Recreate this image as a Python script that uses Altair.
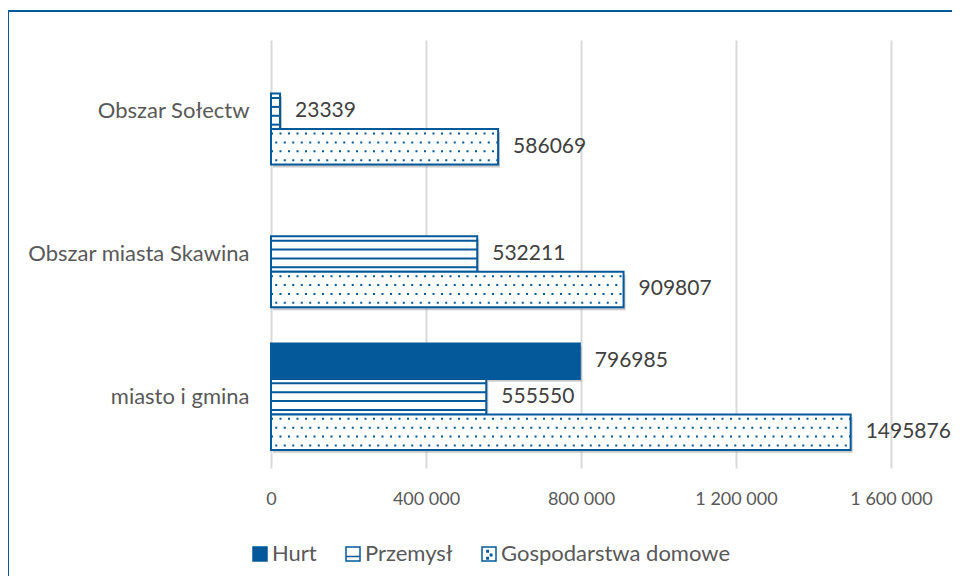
import altair as alt
import pandas as pd

categories = ["Obszar Sołectw", "Obszar miasta Skawina", "miasto i gmina"]
series = ["Hurt", "Przemysł", "Gospodarstwa domowe"]
hurt = [None, None, 796985]
przemysl = [23339, 532211, 555550]
gospodarstwa = [586069, 909807, 1495876]
x_ticks = [0, 400000, 800000, 1200000, 1600000]

rows = []
for name, vals in zip(series, [hurt, przemysl, gospodarstwa]):
    for c, v in zip(categories, vals):
        if v is not None:
            rows.append({"category": c, "series": name, "value": v})
df = pd.DataFrame(rows)

BLUE = "#03599A"
FONT = "Lato"
N_LINES = 4
PAD_OUT = 0.51

Y = alt.Y("category:N", sort=categories,
          scale=alt.Scale(domain=categories, paddingInner=0, paddingOuter=0),
          axis=alt.Axis(title=None, domain=False, ticks=False, grid=False,
                        labelFont=FONT, labelFontSize=22, labelColor="#595959",
                        labelPadding=22, labelLimit=400))
X = alt.X("value:Q", scale=alt.Scale(domain=[0, 1600000], nice=False),
          axis=alt.Axis(title=None, values=x_ticks, domain=False, ticks=False,
                        grid=True, gridColor="#d9d9d9", gridWidth=2,
                        labelFont=FONT, labelFontSize=18, labelFlush=False,
                        labelOverlap=False, labelBound=False,
                        labelColor="#595959", labelPadding=22,
                        labelExpr="replace(format(datum.value, ','), regexp(',', 'g'), ' ')"))


def yoff(align=0.5):
    return alt.YOffset("series:N",
                       scale=alt.Scale(type="band", domain=series, paddingInner=0,
                                       paddingOuter=PAD_OUT, align=align))


# sub-bands: one per pattern line, with two empty slots at each end for the outer gap
sub_domain = (["_a", "_b"] + [f"{s}|{i}" for s in series for i in range(N_LINES)]
              + ["_c", "_d"])
YO_SUB = alt.YOffset("sub:N", scale=alt.Scale(type="band", domain=sub_domain,
                                              paddingInner=0, paddingOuter=0.04))

base = alt.Chart(df).encode(y=Y)

shadow = base.mark_bar(color="#8c8c8c", opacity=0.45, xOffset=2).encode(
    x=alt.X("value:Q"), yOffset=yoff(0.58))

bars = base.mark_bar(stroke=BLUE, strokeWidth=2).encode(
    x=X, yOffset=yoff(),
    fill=alt.condition("datum.series == 'Hurt'", alt.value(BLUE), alt.value("white")),
)

lines_base = (
    base.transform_calculate(line="[0, 1, 2, 3]")
    .transform_flatten(["line"])
    .transform_calculate(sub="datum.series + '|' + datum.line", zero="0")
)

stripes = lines_base.transform_filter("datum.series == 'Przemysł'").mark_rule(
    color=BLUE, strokeWidth=2).encode(x=alt.X("zero:Q"), x2=alt.X2("value"), yOffset=YO_SUB)

dots_a = lines_base.transform_filter(
    "datum.series == 'Gospodarstwa domowe' && datum.line % 2 == 0").mark_rule(
    color=BLUE, strokeWidth=2, strokeDash=[2, 6.5]).encode(
    x=alt.X("zero:Q"), x2=alt.X2("value"), yOffset=YO_SUB)
dots_b = lines_base.transform_filter(
    "datum.series == 'Gospodarstwa domowe' && datum.line % 2 == 1").mark_rule(
    color=BLUE, strokeWidth=2, strokeDash=[2, 6.5], strokeDashOffset=4.25).encode(
    x=alt.X("zero:Q"), x2=alt.X2("value"), yOffset=YO_SUB)

labels = base.mark_text(align="left", baseline="middle", dx=15, fontSize=21,
                        font=FONT, color="#404040").encode(
    x=alt.X("value:Q"), yOffset=yoff(), text=alt.Text("value:Q", format="d"))

legend = alt.Legend(title=None, orient="none", direction="horizontal",
                    legendX=-22, legendY=503, symbolSize=196, symbolStrokeWidth=1.5,
                    labelFont=FONT, labelFontSize=22, labelColor="#595959",
                    labelOffset=1, columnPadding=25, padding=0, labelLimit=400)
shapes = [
    "M-1,-1H1V1H-1Z",
    "M-1,-1H1V1H-1Z M-1,0.35H1",
    "M-1,-1H1V1H-1Z M-0.3,-0.5h0.2v0.2h-0.2Z M0.2,0.05h0.2v0.2h-0.2Z M-0.3,0.5h0.2v0.2h-0.2Z",
]
leg = alt.Chart(df).transform_filter("false").mark_point(
    opacity=1, filled=True, strokeWidth=1.5).encode(
    x=alt.X("value:Q"),
    y=alt.Y("category:N"),
    fill=alt.Fill("series:N", scale=alt.Scale(domain=series, range=[BLUE, "white", "white"]), legend=legend),
    stroke=alt.Stroke("series:N", scale=alt.Scale(domain=series, range=[BLUE, BLUE, BLUE]), legend=legend),
    shape=alt.Shape("series:N", scale=alt.Scale(domain=series, range=shapes), legend=legend),
)

frame_df = pd.DataFrame({"k": [0]})
left_border = alt.Chart(frame_df).mark_rule(color=BLUE, strokeWidth=2).encode(
    x=alt.value(-263), y=alt.value(-29), y2=alt.value(560))
top_border = alt.Chart(frame_df).mark_rule(color=BLUE, strokeWidth=2).encode(
    x=alt.value(-263), x2=alt.value(720), y=alt.value(-29))

chart = alt.layer(
    shadow, bars, stripes, dots_a, dots_b, labels, leg, left_border, top_border
).resolve_scale(yOffset="independent").properties(
    width=620, height=428,
    autosize=alt.AutoSizeParams(type="none"),
    padding={"left": 263, "top": 32, "right": 61, "bottom": 108},
    background="white",
).configure_view(stroke=None)

chart.save("out.html", embed_options={"renderer": "svg", "actions": False})
